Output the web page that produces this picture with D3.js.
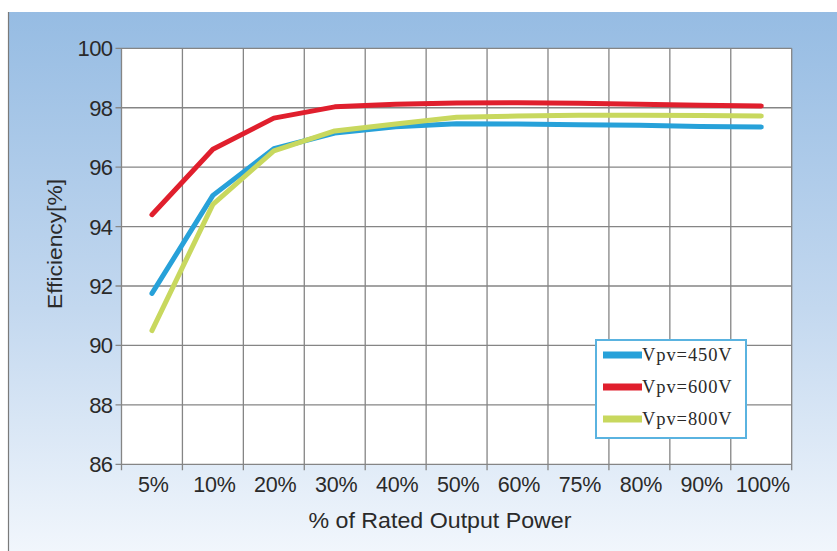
<!DOCTYPE html>
<html>
<head>
<meta charset="utf-8">
<script src="https://cdn.jsdelivr.net/npm/d3@7"></script>
<style>
  body { margin: 0; background: #fff; }
  svg { display: block; }
</style>
</head>
<body>
<svg width="837" height="551"></svg>
<script>
// efficiency curves, one point per load category
var categories = ["5%", "10%", "20%", "30%", "40%", "50%", "60%", "75%", "80%", "90%", "100%"];
var vpv450 = [91.75, 95.05, 96.62, 97.15, 97.36, 97.46, 97.45, 97.43, 97.41, 97.37, 97.35];
var vpv600 = [94.4, 96.6, 97.65, 98.03, 98.12, 98.16, 98.17, 98.15, 98.12, 98.08, 98.06];
var vpv800 = [90.5, 94.75, 96.55, 97.22, 97.45, 97.68, 97.72, 97.75, 97.75, 97.74, 97.72];
var seriesNames = ["Vpv=450V", "Vpv=600V", "Vpv=800V"];
var yTicks = [86, 88, 90, 92, 94, 96, 98, 100];

var colours = ["#27a1d9", "#e01f2d", "#c8d85e"];
var series = [vpv450, vpv600, vpv800];

function drawChart() {

    var svg = d3.select("svg"),
        width = +svg.attr("width"),
        height = +svg.attr("height");

    var plotLeft = 121.5, plotRight = 791.7, plotTop = 48.3, plotBottom = 464.3;

    // background panel (blue gradient)
    var defs = svg.append("defs");
    var grad = defs.append("linearGradient")
        .attr("id", "bg")
        .attr("x1", 0).attr("y1", 0).attr("x2", 0).attr("y2", 1);
    grad.append("stop").attr("offset", "0%").attr("stop-color", "#96bce3");
    grad.append("stop").attr("offset", "55%").attr("stop-color", "#c3d8ef");
    grad.append("stop").attr("offset", "100%").attr("stop-color", "#f1f6fc");

    svg.append("rect")
        .attr("x", 8).attr("y", 12)
        .attr("width", width - 8).attr("height", height - 12)
        .attr("fill", "url(#bg)");

    svg.append("line")
        .attr("x1", 8.5).attr("x2", 8.5)
        .attr("y1", 12).attr("y2", height)
        .attr("stroke", "#7a7a7a").attr("stroke-width", 1.2);

    // scales
    var x = d3.scaleBand()
        .domain(categories)
        .range([plotLeft, plotRight])
        .padding(0);

    var xEdges = d3.scaleLinear()
        .domain([0, categories.length])
        .range([plotLeft, plotRight]);

    var y = d3.scaleLinear()
        .domain([86, 100])
        .range([plotBottom, plotTop]);

    // plot area
    svg.append("rect")
        .attr("x", plotLeft).attr("y", plotTop)
        .attr("width", plotRight - plotLeft).attr("height", plotBottom - plotTop)
        .attr("fill", "#fff");

    var grid = svg.append("g")
        .attr("stroke", "#858585")
        .attr("stroke-width", 1.3);

    grid.selectAll(".hgrid")
        .data(yTicks)
        .enter().append("line")
        .attr("x1", plotLeft - 6).attr("x2", plotRight)
        .attr("y1", d => y(d)).attr("y2", d => y(d));

    grid.selectAll(".vgrid")
        .data(d3.range(categories.length + 1))
        .enter().append("line")
        .attr("x1", d => xEdges(d)).attr("x2", d => xEdges(d))
        .attr("y1", plotTop).attr("y2", plotBottom + 6);

    // y tick labels
    svg.append("g")
        .selectAll("text")
        .data(yTicks)
        .enter().append("text")
        .attr("x", plotLeft - 9)
        .attr("y", d => y(d))
        .attr("dy", "0.36em")
        .attr("text-anchor", "end")
        .style("font-family", "Liberation Sans, Arial, sans-serif")
        .style("font-size", "22px")
        .style("letter-spacing", "-0.6px")
        .attr("fill", "#2a2a2a")
        .text(d => d);

    // x tick labels
    svg.append("g")
        .selectAll("text")
        .data(categories)
        .enter().append("text")
        .attr("x", d => x(d) + x.bandwidth() / 2 + 1.5)
        .attr("y", 492)
        .attr("text-anchor", "middle")
        .style("font-family", "Liberation Sans, Arial, sans-serif")
        .style("font-size", "21.5px")
        .style("letter-spacing", "-0.2px")
        .attr("fill", "#2a2a2a")
        .text(d => d);

    // axis titles
    svg.append("text")
        .attr("x", 440)
        .attr("y", 528)
        .attr("text-anchor", "middle")
        .attr("textLength", 263)
        .attr("lengthAdjust", "spacingAndGlyphs")
        .style("font-family", "Liberation Sans, Arial, sans-serif")
        .style("font-size", "22px")
        .attr("fill", "#2a2a2a")
        .text("% of Rated Output Power");

    svg.append("text")
        .attr("transform", "translate(62,244) rotate(-90)")
        .attr("text-anchor", "middle")
        .attr("textLength", 130)
        .attr("lengthAdjust", "spacingAndGlyphs")
        .style("font-family", "Liberation Sans, Arial, sans-serif")
        .style("font-size", "21px")
        .attr("fill", "#2a2a2a")
        .text("Efficiency[%]");

    // curves
    var line = d3.line()
        .x(function (d, i) { return x(categories[i]) + x.bandwidth() / 2; })
        .y(function (d) { return y(d); });

    svg.append("g")
        .selectAll("path")
        .data(series)
        .enter().append("path")
        .attr("d", line)
        .attr("fill", "none")
        .attr("stroke", (d, i) => colours[i])
        .attr("stroke-width", 5)
        .attr("stroke-linejoin", "round")
        .attr("stroke-linecap", "round");

    // legend
    var legend = svg.append("g")
        .attr("transform", "translate(596,340)");

    legend.append("rect")
        .attr("width", 150).attr("height", 98)
        .attr("fill", "#fff")
        .attr("stroke", "#5ab3e0")
        .attr("stroke-width", 2);

    var rows = legend.selectAll(".row")
        .data(seriesNames)
        .enter().append("g")
        .attr("transform", (d, i) => "translate(0," + (15 + i * 32) + ")");

    rows.append("line")
        .attr("x1", 7).attr("x2", 46)
        .attr("stroke", (d, i) => colours[i])
        .attr("stroke-width", 7);

    rows.append("text")
        .attr("x", 46)
        .attr("y", 6)
        .style("font-family", "Liberation Serif, Times New Roman, serif")
        .style("font-size", "18.5px")
        .style("letter-spacing", "0.9px")
        .attr("fill", "#2a2a2a")
        .text(d => d);
}

drawChart();
</script>
</body>
</html>
